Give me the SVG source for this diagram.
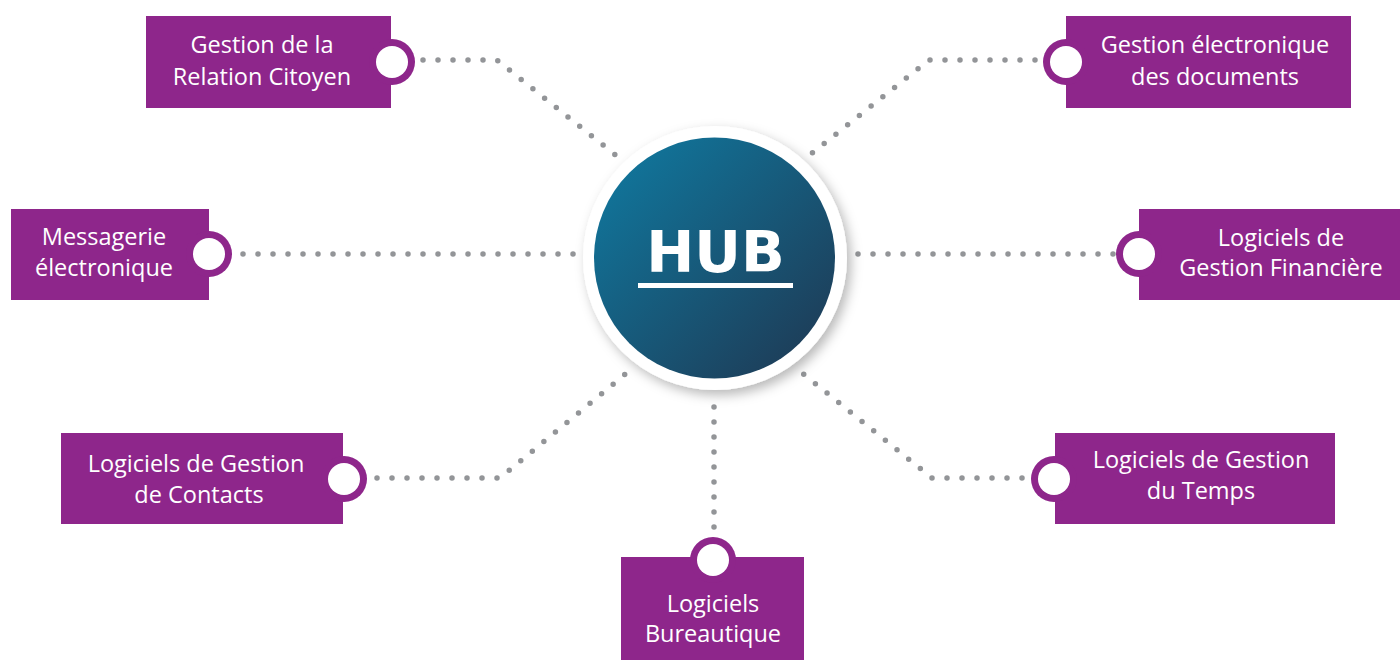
<svg xmlns="http://www.w3.org/2000/svg" width="1400" height="661" viewBox="0 0 1400 661">
  <defs>
    <linearGradient id="hubGrad" x1="0" y1="0" x2="1" y2="1">
      <stop offset="0" stop-color="#0f7ca3"/>
      <stop offset="1" stop-color="#1f3650"/>
    </linearGradient>
    <filter id="shadow" x="-20%" y="-20%" width="140%" height="140%">
      <feDropShadow dx="4" dy="5" stdDeviation="6" flood-color="#000" flood-opacity="0.28"/>
    </filter>
  </defs>
  <style>
    .box { fill: #8e268b; }
    .ring { fill: #8e268b; }
    .hole { fill: #ffffff; }
    .lbl { font-family: "Open Sans", Lato, "Liberation Sans", sans-serif; font-size: 23.5px; fill: #ffffff; text-anchor: middle; }
    .dots { fill: none; stroke: #939598; stroke-width: 5.5; stroke-linecap: round; stroke-linejoin: round; stroke-dasharray: 0 15; }
  </style>
  <rect width="1400" height="661" fill="#ffffff"/>

  <g id="connectors">
    <path class="dots" d="M423 60 H497 L618 157"/>
    <path class="dots" d="M1035 60 H929 L811 154"/>
    <path class="dots" d="M243 254 H577"/>
    <path class="dots" d="M1113 254 H855"/>
    <path class="dots" d="M377 478 H500 L629 371"/>
    <path class="dots" d="M1022 478 H932 L801 372"/>
    <path class="dots" d="M714 527 V402"/>
  </g>

  <g id="hub">
    <circle cx="715" cy="258" r="132" fill="#ffffff" filter="url(#shadow)"/>
    <circle cx="714.5" cy="258" r="120.5" fill="url(#hubGrad)"/>
    <text x="715.5" y="272" font-family="'DejaVu Sans', 'Liberation Sans', sans-serif" font-weight="bold" font-size="57.5" fill="#ffffff" text-anchor="middle">HUB</text>
    <rect x="638" y="283" width="155" height="5" fill="#ffffff"/>
  </g>

  <g id="node-relation-citoyen">
    <rect class="box" x="146" y="16" width="245" height="92"/>
    <circle class="ring" cx="392" cy="62" r="23"/>
    <circle class="hole" cx="392" cy="62" r="16"/>
    <text class="lbl" x="262" y="53">Gestion de la</text>
    <text class="lbl" x="262" y="85">Relation Citoyen</text>
  </g>

  <g id="node-ged">
    <rect class="box" x="1066" y="16" width="285" height="92"/>
    <circle class="ring" cx="1066" cy="62" r="23"/>
    <circle class="hole" cx="1066" cy="62" r="16"/>
    <text class="lbl" x="1215" y="53">Gestion électronique</text>
    <text class="lbl" x="1215" y="85">des documents</text>
  </g>

  <g id="node-messagerie">
    <rect class="box" x="11" y="209" width="198" height="91"/>
    <circle class="ring" cx="209" cy="254" r="23"/>
    <circle class="hole" cx="209" cy="254" r="16"/>
    <text class="lbl" x="104" y="245">Messagerie</text>
    <text class="lbl" x="104" y="276">électronique</text>
  </g>

  <g id="node-financiere">
    <rect class="box" x="1139" y="209" width="261" height="91"/>
    <circle class="ring" cx="1139" cy="254" r="23"/>
    <circle class="hole" cx="1139" cy="254" r="16"/>
    <text class="lbl" x="1281" y="246">Logiciels de</text>
    <text class="lbl" x="1281" y="276">Gestion Financière</text>
  </g>

  <g id="node-contacts">
    <rect class="box" x="61" y="433" width="282" height="91"/>
    <circle class="ring" cx="344" cy="479" r="23"/>
    <circle class="hole" cx="344" cy="479" r="16"/>
    <text class="lbl" x="196" y="472">Logiciels de Gestion</text>
    <text class="lbl" x="199" y="503">de Contacts</text>
  </g>

  <g id="node-temps">
    <rect class="box" x="1055" y="433" width="280" height="91"/>
    <circle class="ring" cx="1054" cy="479" r="23"/>
    <circle class="hole" cx="1054" cy="479" r="16"/>
    <text class="lbl" x="1201" y="468">Logiciels de Gestion</text>
    <text class="lbl" x="1201" y="499">du Temps</text>
  </g>

  <g id="node-bureautique">
    <rect class="box" x="621" y="557" width="183" height="103"/>
    <circle class="ring" cx="713" cy="560" r="23"/>
    <circle class="hole" cx="713" cy="560" r="16"/>
    <text class="lbl" x="713" y="612">Logiciels</text>
    <text class="lbl" x="713" y="642">Bureautique</text>
  </g>
</svg>
